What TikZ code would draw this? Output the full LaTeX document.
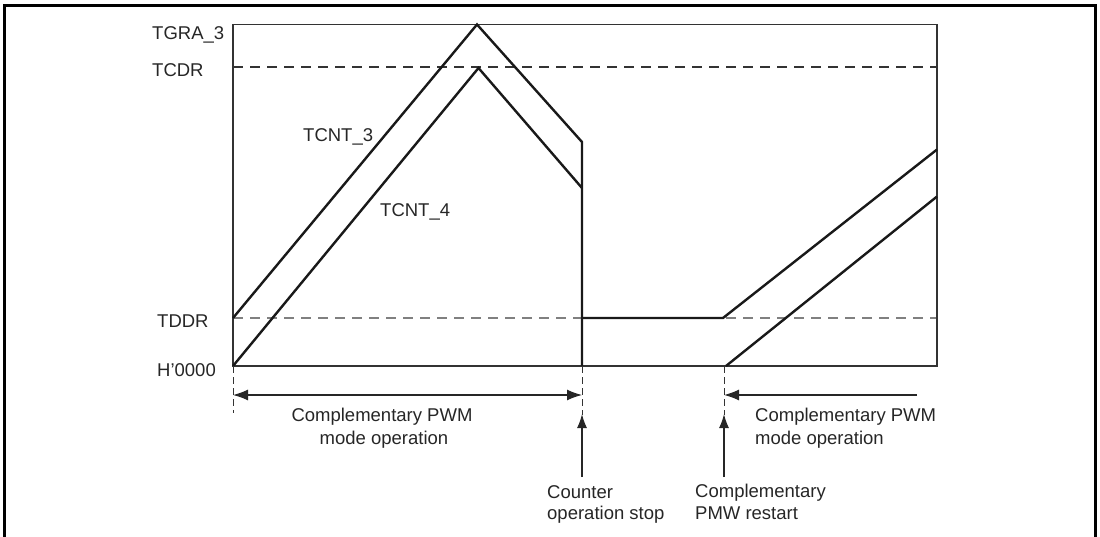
\documentclass[tikz,border=0pt]{standalone}
\usepackage{fontspec}
\setmainfont{Liberation Sans}
\usetikzlibrary{arrows.meta}
\definecolor{boxgray}{HTML}{333333}
\definecolor{dashdark}{HTML}{333333}
\definecolor{dashlight}{HTML}{808080}
\tikzset{
  lbl/.style={font=\fontsize{18.5}{22}\selectfont, inner sep=0pt, text=black!85},
  curve/.style={line width=2.4pt, black!90, line join=miter},
  guide/.style={line width=1.1pt, dash pattern=on 10pt off 7pt},
  thinline/.style={line width=1.3pt, boxgray},
  tip/.style={-{Latex[length=14pt,width=10pt]}},
}
\begin{document}
\begin{tikzpicture}[x=1pt,y=-1pt]
\useasboundingbox (0,0) rectangle (1100,537);
% outer frame (open at bottom)
\draw[line width=3pt] (4,537) -- (4,6) -- (1095,6) -- (1095,537);

% coordinates
\coordinate (BL) at (233,366);
\coordinate (TR) at (937,24.5);
\coordinate (stopx) at (582,366);
\coordinate (restx) at (724,366);

% dashed level lines
\draw[guide, dashdark] (233,67) -- (937,67);
\draw[guide, dashlight] (233,318) -- (937,318);

% plot box
\draw[thinline] (BL) rectangle (TR);

% TCNT_3
\draw[curve] (233,318) -- (477,24.5) -- (582,142) -- (582,366);
\draw[curve] (582,318) -- (723,318) -- (937,149.5);
% TCNT_4
\draw[curve] (233,366) -- (478.5,68) -- (582,188);
\draw[curve] (726,366) -- (937,196.5);

% level labels
\node[lbl, anchor=base west] (tgra) at (152,40) {TGRA\_3};
\node[lbl, anchor=base west] (tcdr) at (152,76.5) {TCDR};
\node[lbl, anchor=base west] (tddr) at (157,327) {TDDR};
\node[lbl, anchor=base west] (h0) at (157,376) {H'0000};
\node[lbl, anchor=base west] (t3) at (303,142) {TCNT\_3};
\node[lbl, anchor=base west] (t4) at (380,217) {TCNT\_4};

% vertical extension lines
\draw[line width=0.9pt, boxgray, dash pattern=on 7pt off 4pt] (BL) -- (233,413);
\draw[line width=0.9pt, boxgray, dash pattern=on 7pt off 4pt] (stopx) -- (582,415);
\draw[line width=0.9pt, boxgray, dash pattern=on 7pt off 4pt] (restx) -- (724,415);

% span arrows
\coordinate (a1) at (233,395);
\coordinate (a2) at (582,395);
\coordinate (a3) at (917,395);
\coordinate (a4) at (724,395);
\draw[line width=1.3pt, black!85, {Latex[length=15pt,width=11pt]}-{Latex[length=15pt,width=11pt]}] (a1) -- (a2);
\draw[line width=1.3pt, black!85, -{Latex[length=15pt,width=11pt]}] (a3) -- (a4);

% text below
\node[lbl, anchor=base] (c1a) at (382,421) {Complementary PWM};
\node[lbl, anchor=base] (c1b) at (384,444) {mode operation};
\node[lbl, anchor=base west] (c2a) at (755,421.5) {Complementary PWM};
\node[lbl, anchor=base west] (c2b) at (755,444) {mode operation};
\node[lbl, anchor=base west] (s1) at (547,498) {Counter};
\node[lbl, anchor=base west] (s2) at (547,519.5) {operation stop};
\node[lbl, anchor=base west] (r1) at (695,497.5) {Complementary};
\node[lbl, anchor=base west] (r2) at (695,519.5) {PMW restart};

% event arrows
\coordinate (e1) at (582,477);
\coordinate (e1t) at (582,414);
\coordinate (e2) at (724,477);
\coordinate (e2t) at (724,414);
\draw[line width=1.3pt, black!85, tip] (e1) -- (e1t);
\draw[line width=1.3pt, black!85, tip] (e2) -- (e2t);
\end{tikzpicture}
\end{document}
